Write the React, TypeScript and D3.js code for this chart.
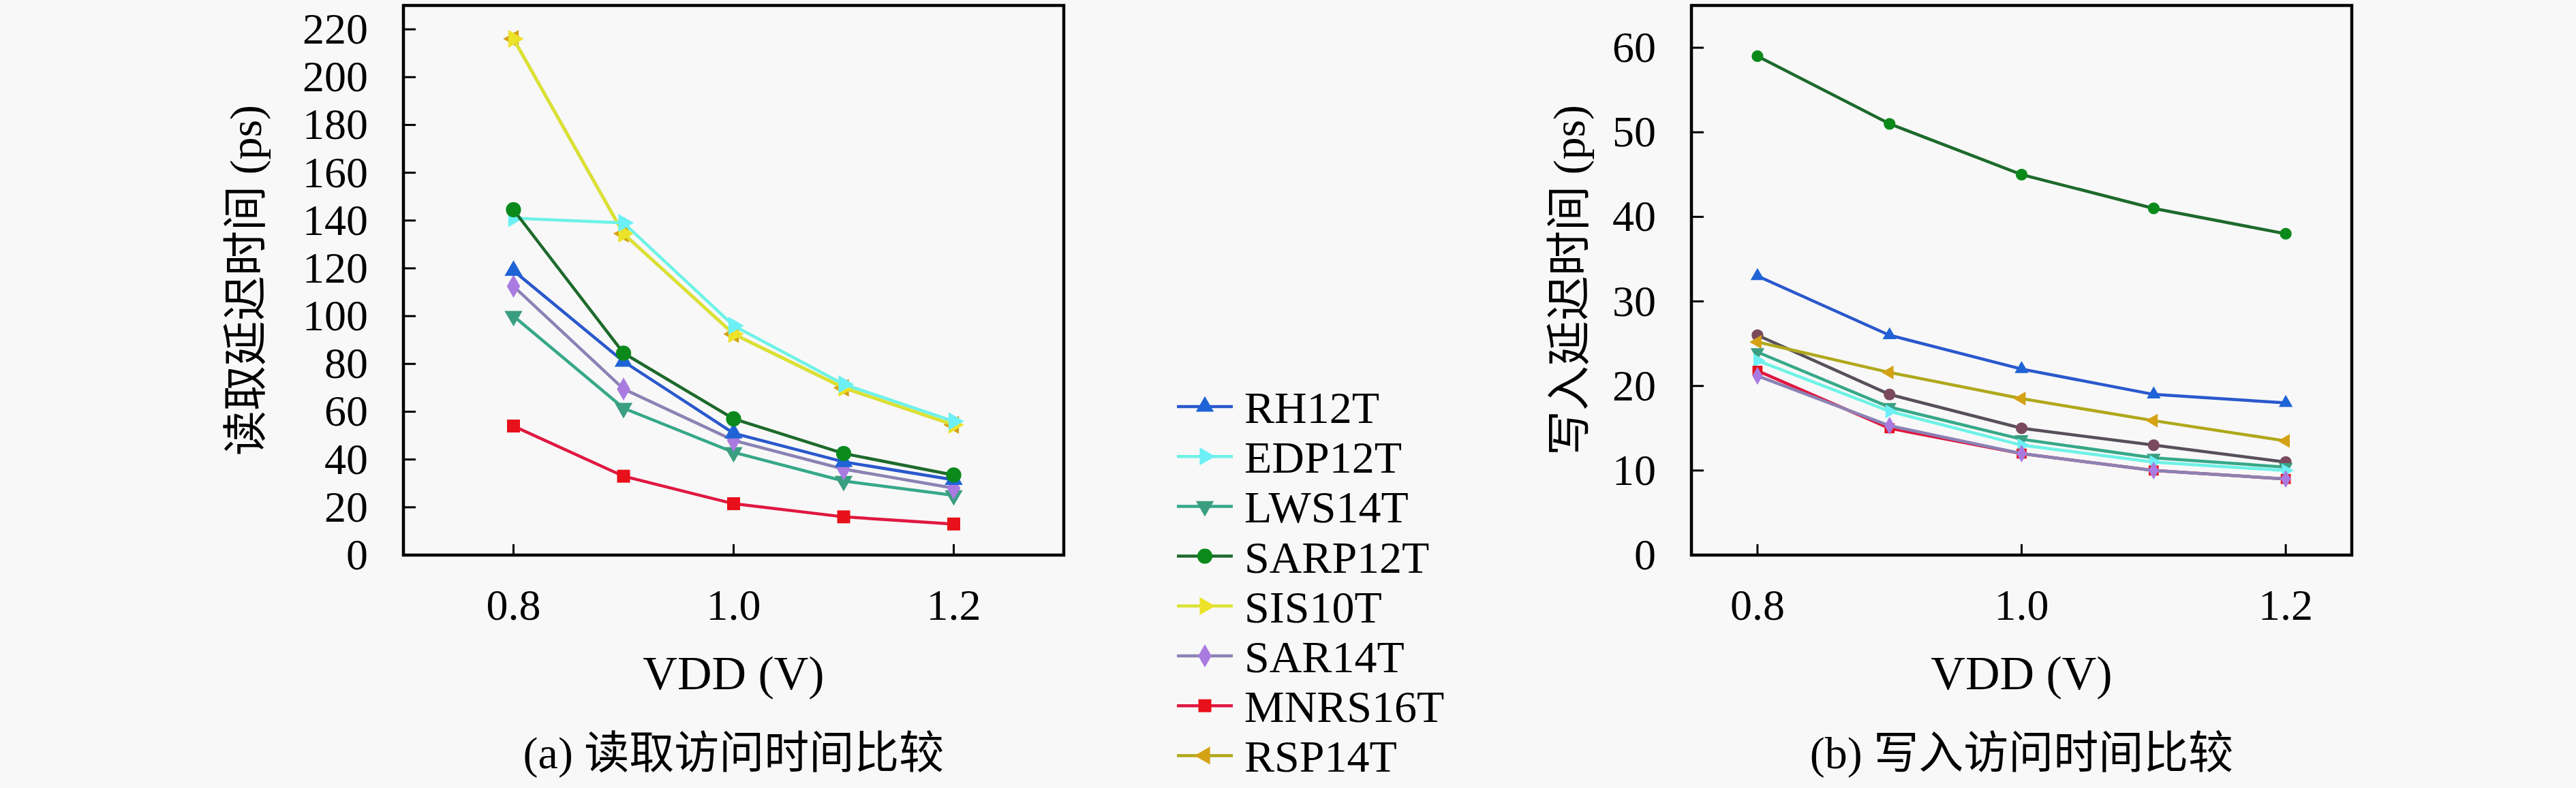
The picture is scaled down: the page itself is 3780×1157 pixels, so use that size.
import { useEffect, useRef } from "react";
import * as d3 from "d3";

const W = 3780;
const H = 1157;

const voltages = [0.8, 0.9, 1.0, 1.1, 1.2];
const seriesNames = ["RH12T", "EDP12T", "LWS14T", "SARP12T", "SIS10T", "SAR14T", "MNRS16T", "RSP14T"];

// read delay (ps)
const readRH12T = [119, 81, 51, 39, 31.5];
const readEDP12T = [141, 139, 96, 71.5, 56];
const readLWS14T = [100, 61.5, 43, 31, 25];
const readSARP12T = [144.5, 84.5, 57, 42.5, 33.5];
const readSIS10T = [216, 134.5, 92.5, 70, 54.5];
const readSAR14T = [112.5, 69.5, 48, 36, 28];
const readMNRS16T = [54, 33, 21.5, 16, 13];
const readRSP14T = [216, 134.5, 92.5, 70, 54.5];

// write delay (ps)
const writeRH12T = [33, 26, 22, 19, 18];
const writeEDP12T = [23, 17, 13, 11, 10];
const writeLWS14T = [24, 17.5, 13.7, 11.5, 10.4];
const writeSARP12T = [59, 51, 45, 41, 38];
const writeSIS10T = [26, 19, 15, 13, 11];
const writeSAR14T = [21.2, 15.3, 12, 10, 9];
const writeMNRS16T = [21.8, 15, 12, 10, 9];
const writeRSP14T = [25.2, 21.6, 18.5, 15.9, 13.5];

const readTicks = [0, 20, 40, 60, 80, 100, 120, 140, 160, 180, 200, 220];
const writeTicks = [0, 10, 20, 30, 40, 50, 60];
const xTicks = [0.8, 1.0, 1.2];

const readSeries = [readRH12T, readEDP12T, readLWS14T, readSARP12T, readSIS10T, readSAR14T, readMNRS16T, readRSP14T];
const writeSeries = [writeRH12T, writeEDP12T, writeLWS14T, writeSARP12T, writeSIS10T, writeSAR14T, writeMNRS16T, writeRSP14T];

type Style = { marker: string; fill: string; line: string };
const styles: Record<string, Style> = {
  RH12T: { marker: "up", fill: "#1f63d6", line: "#2a58cc" },
  EDP12T: { marker: "right", fill: "#6cf0f5", line: "#6ef2e6" },
  LWS14T: { marker: "down", fill: "#3a9e80", line: "#36a888" },
  SARP12T: { marker: "circle", fill: "#0b8a1b", line: "#1d6a2c" },
  SIS10T: { marker: "right", fill: "#ece22a", line: "#dce232" },
  SAR14T: { marker: "diamond", fill: "#a97be0", line: "#8b82b4" },
  MNRS16T: { marker: "square", fill: "#e8101a", line: "#e01840" },
  RSP14T: { marker: "left", fill: "#d4a214", line: "#b0a81c" },
};
// in the write plot SIS10T is drawn with dark brown circles
const writeOverride: Record<string, Style> = {
  SIS10T: { marker: "circle", fill: "#7a4a5c", line: "#57505a" },
};

const serif = "'Liberation Serif', 'Noto Sans CJK SC', serif";

function symbolPath(kind: string, size: number) {
  const tri = d3.symbol().type(d3.symbolTriangle).size(size)();
  switch (kind) {
    case "up":
      return { d: tri, rot: 0 };
    case "down":
      return { d: tri, rot: 180 };
    case "right":
      return { d: tri, rot: 90 };
    case "left":
      return { d: tri, rot: -90 };
    case "circle":
      return { d: d3.symbol().type(d3.symbolCircle).size(size * 1.3)(), rot: 0 };
    case "diamond":
      return { d: d3.symbol().type(d3.symbolDiamond).size(size * 1.1)(), rot: 0 };
    default:
      return { d: d3.symbol().type(d3.symbolSquare).size(size * 1.2)(), rot: 0 };
  }
}

const App = () => {
  const ref = useRef<SVGSVGElement | null>(null);

  useEffect(() => {
    const svg = d3.select(ref.current);
    svg.selectAll("*").remove();

    svg.append("rect").attr("width", W).attr("height", H).attr("fill", "#f8f8f8");

    const panel = (
      left: number,
      xDomain: [number, number],
      yMax: number,
      ticks: number[],
      data: number[][],
      order: number[],
      override: Record<string, Style>,
      markSize: number,
      yLabel: string,
      yLabelX: number,
      caption: string
    ) => {
      const top = 8;
      const bottom = 815;
      const width = 969;
      const x = d3.scaleLinear().domain(xDomain).range([left, left + width]);
      const y = d3.scaleLinear().domain([0, yMax]).range([bottom, top]);
      const g = svg.append("g");

      // ticks (inward)
      g.selectAll("line.yt")
        .data(ticks)
        .join("line")
        .attr("x1", left)
        .attr("x2", left + 18)
        .attr("y1", (d) => y(d))
        .attr("y2", (d) => y(d))
        .attr("stroke", "#000")
        .attr("stroke-width", 3);
      g.selectAll("line.xt")
        .data(xTicks)
        .join("line")
        .attr("x1", (d) => x(d))
        .attr("x2", (d) => x(d))
        .attr("y1", bottom)
        .attr("y2", bottom - 16)
        .attr("stroke", "#000")
        .attr("stroke-width", 3);

      g.selectAll("text.yl")
        .data(ticks)
        .join("text")
        .attr("x", left - 52)
        .attr("y", (d) => y(d) + 21)
        .attr("text-anchor", "end")
        .attr("font-family", serif)
        .attr("font-size", 64)
        .text((d) => d);
      g.selectAll("text.xl")
        .data(xTicks)
        .join("text")
        .attr("x", (d) => x(d))
        .attr("y", 910)
        .attr("text-anchor", "middle")
        .attr("font-family", serif)
        .attr("font-size", 64)
        .text((d) => d.toFixed(1));

      const line = d3
        .line<number>()
        .x((_, i) => x(voltages[i]))
        .y((d) => y(d));

      order.forEach((si) => {
        const name = seriesNames[si];
        const st = override[name] || styles[name];
        g.append("path")
          .attr("d", line(data[si]))
          .attr("fill", "none")
          .attr("stroke", st.line)
          .attr("stroke-width", 4.5);
        const sym = symbolPath(st.marker, markSize);
        g.selectAll(null)
          .data(data[si])
          .join("path")
          .attr("d", sym.d)
          .attr("transform", (d, i) => `translate(${x(voltages[i])},${y(d)}) rotate(${sym.rot})`)
          .attr("fill", st.fill);
      });

      g.append("rect")
        .attr("x", left)
        .attr("y", top)
        .attr("width", width)
        .attr("height", bottom - top)
        .attr("fill", "none")
        .attr("stroke", "#000")
        .attr("stroke-width", 4.5);

      const cx = x(1.0);
      g.append("text")
        .attr("x", cx)
        .attr("y", 1012)
        .attr("text-anchor", "middle")
        .attr("font-family", serif)
        .attr("font-size", 70)
        .text("VDD (V)");
      g.append("text")
        .attr("x", cx)
        .attr("y", 1128)
        .attr("text-anchor", "middle")
        .attr("font-family", serif)
        .attr("font-size", 66)
        .text(caption);
      g.append("text")
        .attr("transform", `translate(${yLabelX},${(top + bottom) / 2}) rotate(-90)`)
        .attr("text-anchor", "middle")
        .attr("dominant-baseline", "central")
        .attr("font-family", serif)
        .attr("font-size", 66)
        .text(yLabel);
    };

    panel(592, [0.7, 1.3], 230, readTicks, readSeries, [7, 4, 1, 2, 5, 0, 3, 6], {}, 300, "读取延迟时间 (ps)", 360, "(a) 读取访问时间比较");
    panel(2482, [0.75, 1.25], 65, writeTicks, writeSeries, [4, 7, 2, 1, 6, 5, 0, 3], writeOverride, 180, "写入延迟时间 (ps)", 2302, "(b) 写入访问时间比较");

    // legend
    const lg = svg.append("g");
    seriesNames.forEach((name, i) => {
      const st = styles[name];
      const yy = 597 + i * 73.2;
      lg.append("line")
        .attr("x1", 1727)
        .attr("x2", 1809)
        .attr("y1", yy)
        .attr("y2", yy)
        .attr("stroke", st.line)
        .attr("stroke-width", 4.5);
      const sym = symbolPath(st.marker, 300);
      lg.append("path")
        .attr("d", sym.d)
        .attr("transform", `translate(1768,${yy}) rotate(${sym.rot})`)
        .attr("fill", st.fill);
      lg.append("text")
        .attr("x", 1826)
        .attr("y", yy + 24)
        .attr("font-family", serif)
        .attr("font-size", 66)
        .text(name);
    });
  }, []);

  return (
    <svg
      ref={ref}
      width={W}
      height={H}
      style={{ position: "absolute", left: 0, top: 0, display: "block" }}
    />
  );
};

export default App;
